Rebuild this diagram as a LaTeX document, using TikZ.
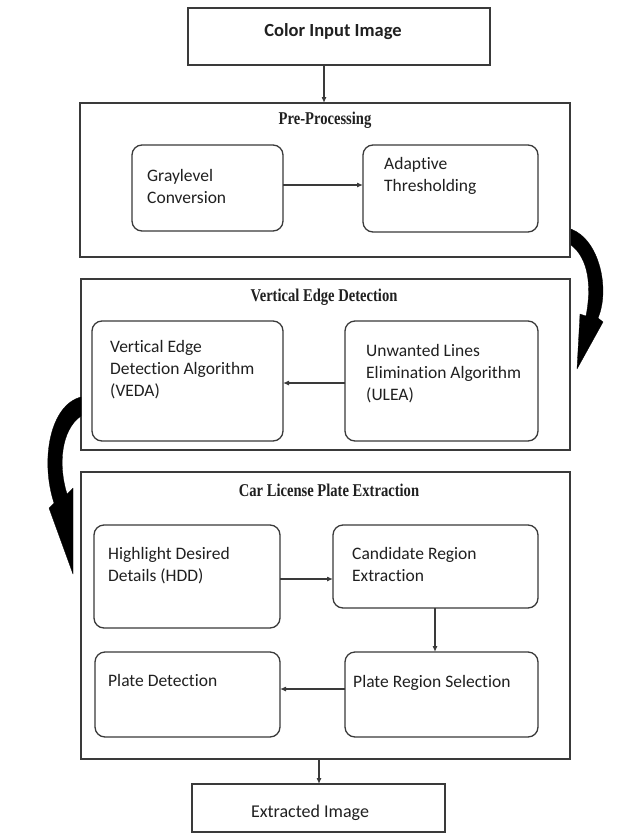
\documentclass[tikz,border=0pt]{standalone}
\usepackage{fontspec}
\setmainfont{Carlito}[Ligatures={NoCommon,NoContextual}, Contextuals=NoAlternate]
\newfontfamily\ttlfont{Liberation Serif}
\usetikzlibrary{arrows.meta}
\definecolor{ln}{HTML}{3A3A3A}
\definecolor{tx}{HTML}{202020}
\tikzset{
  outerbox/.style={draw=ln, line width=1.4pt, inner sep=0pt, outer sep=0pt, fill=white},
  innerbox/.style={draw=ln, line width=1.3pt, rounded corners=10pt, inner sep=0pt, outer sep=0pt, fill=white},
  plainbox/.style={draw=ln, line width=1.4pt, inner sep=0pt, outer sep=0pt, fill=white},
  boxtext/.style={inner sep=0pt, anchor=west, align=left, text=tx, font=\fontsize{17.5}{22}\selectfont},
  ttltext/.style={inner sep=0pt, text=tx, font=\ttlfont\bfseries\fontsize{18}{20}\selectfont, xscale=0.81},
  arr/.style={draw=ln, line width=1.1pt, -{Latex[length=6pt,width=5pt]}},
  bigarrow/.style={fill=black, draw=black, line width=0.3pt, line join=round}
}
\begin{document}
\begin{tikzpicture}[x=1pt,y=-1pt]
\useasboundingbox (0,0) rectangle (630,838);
\fill[white] (0,0) rectangle (630,838);

% top box
\node[plainbox, minimum width=302pt, minimum height=57pt] (cin) at (339,36.5) {};
\node[inner sep=0pt, text=tx, font=\bfseries\fontsize{18.5}{22}\selectfont] (cintxt) at (333,32) {Color Input Image};

% Pre-Processing
\node[outerbox, minimum width=490pt, minimum height=154pt] (pre) at (325,180) {};
\node[ttltext] (pretitle) at (325,120) {Pre-Processing};
\node[innerbox, minimum width=151pt, minimum height=86pt] (gray) at (207.5,188) {};
\node[boxtext] (graytxt) at (147,186) {Graylevel\\Conversion};
\node[innerbox, minimum width=175pt, minimum height=87pt] (adapt) at (450.5,188.5) {};
\node[boxtext] (adapttxt) at (384,176) {Adapt\kern0pt ive\\Thresholding};

% Vertical Edge Detection
\node[outerbox, minimum width=489pt, minimum height=171pt] (ved) at (325.5,364.5) {};
\node[ttltext] (vedtitle) at (324,297) {Vertical Edge Detection};
\node[innerbox, minimum width=191pt, minimum height=120pt] (veda) at (187.5,381) {};
\node[boxtext] (vedatxt) at (110,370) {Vertical Edge\\Detect\kern0pt ion Algorithm\\(VEDA)};
\node[innerbox, minimum width=193pt, minimum height=120pt] (ulea) at (441.5,381) {};
\node[boxtext] (uleatxt) at (366,374) {Unwanted Lines\\Eliminat\kern0pt ion Algorithm\\(ULEA)};

% Car License Plate Extraction
\node[outerbox, minimum width=489pt, minimum height=287pt] (car) at (325.5,615.5) {};
\node[ttltext] (cartitle) at (329,490) {Car License Plate Extraction};
\node[innerbox, minimum width=186pt, minimum height=103pt] (hdd) at (187,576.5) {};
\node[boxtext] (hddtxt) at (108,566) {Highlight Desired\\Details (HDD)};
\node[innerbox, minimum width=205pt, minimum height=83pt] (cand) at (435.5,566.5) {};
\node[boxtext] (candtxt) at (352,564) {Candidate Region\\Extract\kern0pt ion};
\node[innerbox, minimum width=193pt, minimum height=85pt] (prs) at (441.5,694.5) {};
\node[boxtext] (prstxt) at (353,683) {Plate Region Select\kern0pt ion};
\node[innerbox, minimum width=185pt, minimum height=85pt] (pd) at (187.5,694.5) {};
\node[boxtext] (pdtxt) at (108,680) {Plate Detect\kern0pt ion};

% bottom box
\node[plainbox, minimum width=253pt, minimum height=48pt] (ext) at (318.5,808) {};
\node[inner sep=0pt, text=tx, font=\fontsize{18}{22}\selectfont] (exttxt) at (310,813) {Extracted Image};

% connector guides
\coordinate (xa) at (324,0);
\coordinate (ya) at (0,185);
\coordinate (yb) at (0,383);
\coordinate (yc) at (0,579);
\coordinate (xd) at (435,0);
\coordinate (ye) at (0,689);
\coordinate (xf) at (319,0);

\draw[arr] (cin.south -| xa) -- (pre.north -| xa);
\draw[arr] (gray.east |- ya) -- (adapt.west |- ya);
\draw[arr] (ulea.west |- yb) -- (veda.east |- yb);
\draw[arr] (hdd.east |- yc) -- (cand.west |- yc);
\draw[arr] (cand.south -| xd) -- (prs.north -| xd);
\draw[arr] (prs.west |- ye) -- (pd.east |- ye);
\draw[arr] (car.south -| xf) -- (ext.north -| xf);

% curved block arrows
\fill[bigarrow] (571,229) .. controls (600,240) and (610,290) .. (598,318)
  -- (603,322) -- (577,369) -- (580,314) -- (586,316)
  .. controls (592,285) and (588,258) .. (571,245) -- cycle;
\fill[bigarrow] (81,397) .. controls (50,405) and (40,460) .. (54,503)
  -- (49,508) -- (73,574) -- (73,488) -- (67,494)
  .. controls (58,465) and (61,430) .. (81,416) -- cycle;
\end{tikzpicture}
\end{document}
